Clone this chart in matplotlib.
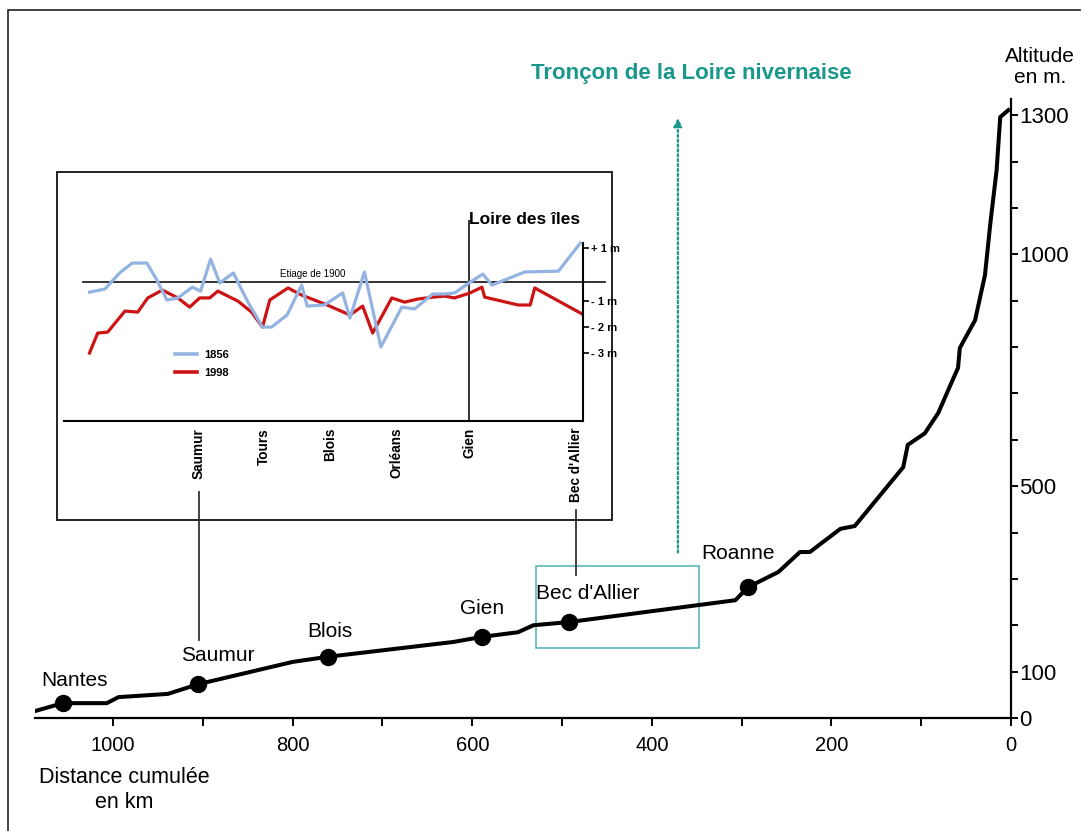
import matplotlib
matplotlib.use("Agg")
import matplotlib.pyplot as plt
from matplotlib.lines import Line2D
from matplotlib.patches import Rectangle

plt.rcParams['font.family'] = ['Liberation Sans', 'DejaVu Sans']

# ---------------- data: main longitudinal profile ----------------
dist_km = [1087, 1056, 1007, 994, 939, 905, 800, 761, 621, 589, 549, 532, 492,
           307, 293, 259, 235, 224, 190, 174, 120, 115, 96, 81, 65, 59, 57,
           40, 29, 23, 16, 12, 3]
alt_m = [15, 32, 32, 45, 52, 73, 121, 132, 164, 175, 185, 200, 207,
         254, 282, 315, 358, 358, 408, 414, 541, 589, 614, 658, 729, 755, 798,
         858, 955, 1067, 1182, 1296, 1311]

cities = ["Nantes", "Saumur", "Blois", "Gien", "Bec d'Allier", "Roanne"]
city_km = [1056, 905, 761, 589, 492, 293]
city_alt = [32, 73, 132, 175, 207, 282]
city_label_offset = [(12, 23), (19, 29), (2, 25), (0, 28), (19, 29), (-10, 34)]

x_ticks = [0, 100, 200, 300, 400, 500, 600, 700, 800, 900, 1000]
x_tick_labels = ["0", "", "200", "", "400", "", "600", "", "800", "", "1000"]
y_ticks = [0, 100, 200, 300, 400, 500, 600, 700, 800, 900, 1000, 1100, 1200, 1300]
y_tick_labels = ["0", "100", "", "", "", "500", "", "", "", "", "1000", "", "", "1300"]

# ---------------- data: inset (low-water line vs 1900) ----------------
inset_cities = ["Saumur", "Tours", "Blois", "Orléans", "Gien", "Bec d'Allier"]
inset_city_km = [905, 834, 761, 688, 608, 491]

km_1856 = [1025, 1008, 992, 978, 962, 951, 940, 928, 912, 903, 892, 882, 867,
           851, 835, 825, 808, 792, 786, 767, 747, 739, 723, 705, 682, 668,
           648, 635, 624, 607, 593, 583, 547, 510, 486]
dev_1856 = [-0.68, -0.56, 0.05, 0.43, 0.43, -0.22, -0.98, -0.90, -0.49, -0.64,
            0.58, -0.33, 0.05, -1.06, -2.01, -2.01, -1.55, -0.41, -1.21, -1.17,
            -0.71, -1.67, 0.09, -2.77, -1.25, -1.32, -0.75, -0.75, -0.71, -0.30,
            0.01, -0.41, 0.09, 0.12, 1.19]

km_1998 = [1025, 1016, 1005, 986, 972, 961, 945, 928, 915, 904, 893, 884, 862,
           847, 835, 827, 807, 792, 764, 739, 725, 714, 693, 679, 664, 648,
           635, 624, 607, 594, 591, 554, 541, 536, 484]
dev_1998 = [-3.00, -2.24, -2.20, -1.40, -1.44, -0.90, -0.60, -0.90, -1.25, -0.90,
            -0.90, -0.64, -1.02, -1.44, -2.01, -0.98, -0.52, -0.79, -1.17, -1.55,
            -1.21, -2.24, -0.90, -1.06, -0.94, -0.87, -0.83, -0.90, -0.71, -0.49,
            -0.87, -1.17, -1.17, -0.52, -1.51]

inset_y_ticks = [1, -1, -2, -3]
inset_y_labels = ["+ 1 m", "- 1 m", "- 2 m", "- 3 m"]
etiage_level = -0.3
gien_km = 608

BLUE = "#93b3e2"
RED = "#cc1414"
TEAL = "#1a978b"
TEAL_BOX = "#4fb3b3"

W, H = 1090, 831
fig = plt.figure(figsize=(W / 100, H / 100), dpi=100)
fig.patch.set_facecolor("white")


def fx(px):
    return px / W


def fy(py):
    return 1 - py / H


# ---------------- main axes ----------------
ax = fig.add_axes([fx(35), fy(718), fx(1011) - fx(35), fy(99) - fy(718)])
ax.set_xlim(1087, 0)
ax.set_ylim(0, 1335)
ax.patch.set_alpha(0)
for s in ("left", "top"):
    ax.spines[s].set_visible(False)
ax.spines["bottom"].set_linewidth(1.6)
ax.spines["right"].set_linewidth(1.6)
ax.yaxis.tick_right()
ax.set_xticks(x_ticks)
ax.set_xticklabels(x_tick_labels)
ax.set_yticks(y_ticks)
ax.set_yticklabels(y_tick_labels)
ax.tick_params(axis="x", direction="out", length=6, width=1.4, pad=7, labelsize=14.5)
ax.tick_params(axis="y", direction="out", length=5, width=1.4, pad=1, labelsize=16)

ax.plot(dist_km, alt_m, color="black", lw=2.9, solid_joinstyle="round", zorder=3)
ax.plot(city_km, city_alt, "o", color="black", ms=11.5, zorder=4)
for name, kx, ay, (ox, oy) in zip(cities, city_km, city_alt, city_label_offset):
    ax.annotate(name, (kx, ay), xytext=(ox, oy), textcoords="offset pixels",
                ha="center", va="center", fontsize=15)

# teal box for the Nièvre reach and dotted arrow
ax.add_patch(Rectangle((529, 151), 347 - 529, 328 - 151, fill=False,
                       edgecolor=TEAL_BOX, lw=1.1, zorder=2))
ax.annotate("", xy=(371, 1300), xytext=(371, 351),
            arrowprops=dict(arrowstyle="-|>", color=TEAL, lw=1.6,
                            linestyle=(0, (1, 1.2)), mutation_scale=12))

fig.text(fx(691), fy(73), "Tronçon de la Loire nivernaise", color=TEAL,
         fontsize=16, fontweight="bold", ha="center", va="center")
fig.text(fx(1040), fy(67), "Altitude\nen m.", fontsize=15, ha="center",
         va="center", linespacing=1.15)
fig.text(fx(124), fy(790), "Distance cumulée\nen km", fontsize=15.5,
         ha="center", va="center", linespacing=1.3)

# ---------------- overlay (frames and connectors) ----------------
ov = fig.add_axes([0, 0, 1, 1])
ov.set_xlim(0, W)
ov.set_ylim(H, 0)
ov.axis("off")
ov.patch.set_alpha(0)
ov.add_patch(Rectangle((57, 172), 555, 348, fill=False, edgecolor="#222222", lw=1.4))
ov.plot([199, 199], [492, 640], color="#333333", lw=1.3)
ov.plot([576, 576], [510, 575], color="#333333", lw=1.3)
ov.plot([8, 8, 1080], [H, 10, 10], color="#333333", lw=1.3)

# ---------------- inset axes ----------------
ai = fig.add_axes([fx(64), fy(421), fx(583) - fx(64), fy(220) - fy(421)])
ai.set_xlim(1053, 483)
ai.set_ylim(-5.59, 2.07)
ai.patch.set_alpha(0)
for s in ("left", "top"):
    ai.spines[s].set_visible(False)
ai.spines["bottom"].set_linewidth(1.5)
ai.spines["right"].set_linewidth(1.5)
ai.spines["right"].set_bounds(-5.59, 1.2)
ai.yaxis.tick_right()
ai.set_yticks(inset_y_ticks)
ai.set_yticklabels(inset_y_labels, fontweight="bold")
ai.tick_params(axis="y", direction="out", length=4, width=1.2, pad=1.5, labelsize=8)
ai.set_xticks(inset_city_km)
ai.set_xticklabels(inset_cities, rotation=90, fontweight="bold")
ai.tick_params(axis="x", length=0, pad=5, labelsize=9.8)

ai.plot([1032, 459], [etiage_level, etiage_level], color="#111111", lw=1.2, clip_on=False)
ai.text(780, etiage_level + 0.12, "Etiage de 1900", fontsize=7, ha="center", va="bottom")
ai.axvline(gien_km, color="#222222", lw=1.3)
ai.text(gien_km, 2.07, "Loire des îles", fontsize=12.5, fontweight="bold",
        ha="left", va="center")
ai.plot(km_1856, dev_1856, color=BLUE, lw=2.3, zorder=3)
ai.plot(km_1998, dev_1998, color=RED, lw=2.3, zorder=2)

handles = [Line2D([], [], color=BLUE, lw=2.6), Line2D([], [], color=RED, lw=2.6)]
ai.legend(handles, ["1856", "1998"], loc="upper left",
          bbox_to_anchor=(fx(165), fy(340)), bbox_transform=fig.transFigure,
          frameon=False, prop={"weight": "bold", "size": 8}, handlelength=2.0,
          labelspacing=0.7, handletextpad=0.6)

fig.savefig("out.png", dpi=100, facecolor="white")
